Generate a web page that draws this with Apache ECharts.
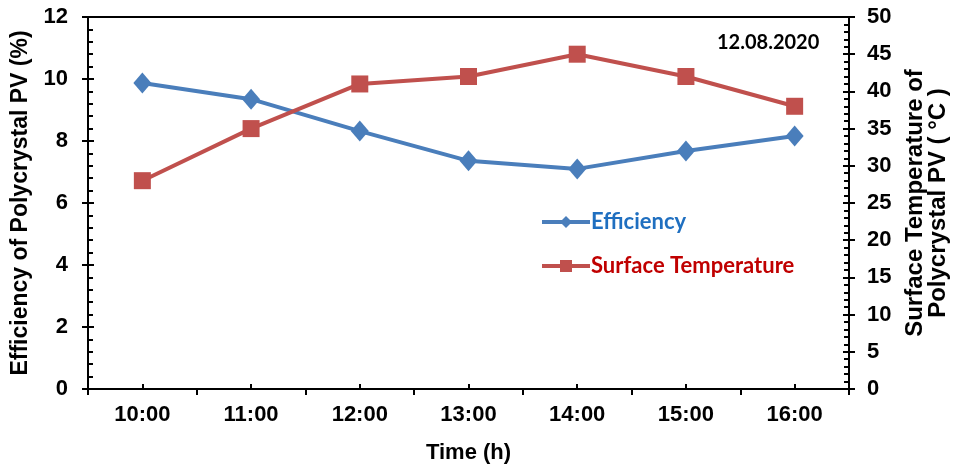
<!DOCTYPE html>
<html><head><meta charset="utf-8">
<script src="https://cdn.jsdelivr.net/npm/echarts@6/dist/echarts.min.js"></script>
<style>html,body{margin:0;padding:0;background:#fff}#c{width:960px;height:466px}</style>
</head><body><div id="c"></div>
<script>
const categories = ['10:00','11:00','12:00','13:00','14:00','15:00','16:00'];
const efficiency = [9.87, 9.35, 8.32, 7.36, 7.1, 7.68, 8.16];
const temperature = [28, 35, 41, 42, 45, 42, 38];
const seriesNames = ['Efficiency', 'Surface Temperature'];
const dateLabel = '12.08.2020';

const chart = echarts.init(document.getElementById('c'));
const F = 'Liberation Sans, Arial, sans-serif';
const axLine = {show:true, lineStyle:{color:'#000', width:2}};
const gridBox = {left:88, right:111, top:17, bottom:77, outerBoundsMode:'none', containLabel:false};
chart.setOption({
  animation:false,
  grid:[
    Object.assign({show:true, borderColor:'#000', borderWidth:2}, gridBox),
    Object.assign({show:false}, gridBox)
  ],
  legend:{
    orient:'vertical', left:535, top:206, itemGap:22, itemWidth:48, itemHeight:15,
    lineStyle:{width:4},
    data:[
      {name:seriesNames[0], textStyle:{color:'#1F6FC0'}},
      {name:seriesNames[1], textStyle:{color:'#C00000'}}
    ],
    textStyle:{fontFamily:'Lato, sans-serif', fontSize:22, fontWeight:'bold', padding:[0,0,0,-4]}
  },
  graphic:[{type:'text', left:717, top:33, style:{text:dateLabel, font:'bold 20px Lato, sans-serif', fill:'#000'}}],
  xAxis:[{
    gridIndex:0, type:'category', data:categories, boundaryGap:true,
    axisLine:axLine,
    axisTick:{show:true, length:6, lineStyle:{color:'#000', width:2}},
    axisLabel:{fontFamily:F, fontWeight:'bold', fontSize:22, color:'#000', margin:15},
    name:'Time (h)', nameLocation:'middle', nameGap:53,
    nameTextStyle:{fontFamily:F, fontWeight:'bold', fontSize:22, color:'#000'}
  },{
    gridIndex:1, type:'category', data:categories, boundaryGap:true, position:'bottom',
    axisLine:axLine,
    axisTick:{show:true, inside:true, length:5, alignWithLabel:true, lineStyle:{color:'#000', width:2}},
    axisLabel:{show:false}
  }],
  yAxis:[{
    gridIndex:0, type:'value', min:0, max:12, interval:2, position:'left',
    axisLine:axLine, splitLine:{show:false},
    axisTick:{show:true, length:6, lineStyle:{color:'#000', width:2}},
    axisLabel:{fontFamily:F, fontWeight:'bold', fontSize:22, color:'#000', margin:20},
    name:'Efficiency of Polycrystal PV (%)', nameLocation:'middle', nameGap:55, nameRotate:90,
    nameTextStyle:{fontFamily:F, fontWeight:'bold', fontSize:23, color:'#000'}
  },{
    gridIndex:0, type:'value', min:0, max:50, interval:5, position:'right',
    axisLine:axLine, splitLine:{show:false},
    axisTick:{show:true, length:6, lineStyle:{color:'#000', width:2}},
    axisLabel:{fontFamily:F, fontWeight:'bold', fontSize:22, color:'#000', margin:18},
    name:'Surface Temperature of\nPolycrystal PV ( °C )', nameLocation:'middle', nameGap:55, nameRotate:90,
    nameTextStyle:{fontFamily:F, fontWeight:'bold', fontSize:24, color:'#000', lineHeight:23}
  },{
    gridIndex:1, type:'value', min:0, max:12, interval:2, position:'left',
    axisLine:axLine, splitLine:{show:false}, axisLabel:{show:false},
    axisTick:{show:true, inside:true, length:6, lineStyle:{color:'#000', width:2}},
    minorTick:{show:true, splitNumber:5, length:5, lineStyle:{color:'#000', width:2}}
  },{
    gridIndex:1, type:'value', min:0, max:50, interval:5, position:'right',
    axisLine:axLine, splitLine:{show:false}, axisLabel:{show:false},
    axisTick:{show:true, inside:true, length:6, lineStyle:{color:'#000', width:2}},
    minorTick:{show:true, splitNumber:5, length:5, lineStyle:{color:'#000', width:2}}
  }],
  series:[{
    name:seriesNames[0], type:'line', data:efficiency, xAxisIndex:0, yAxisIndex:0,
    symbol:'diamond', symbolSize:[18,21],
    lineStyle:{color:'#4A7EBB', width:4}, itemStyle:{color:'#4A7EBB'}
  },{
    name:seriesNames[1], type:'line', data:temperature, xAxisIndex:0, yAxisIndex:1,
    symbol:'rect', symbolSize:17,
    lineStyle:{color:'#C0504D', width:4}, itemStyle:{color:'#C0504D'}
  }]
});
</script></body></html>
